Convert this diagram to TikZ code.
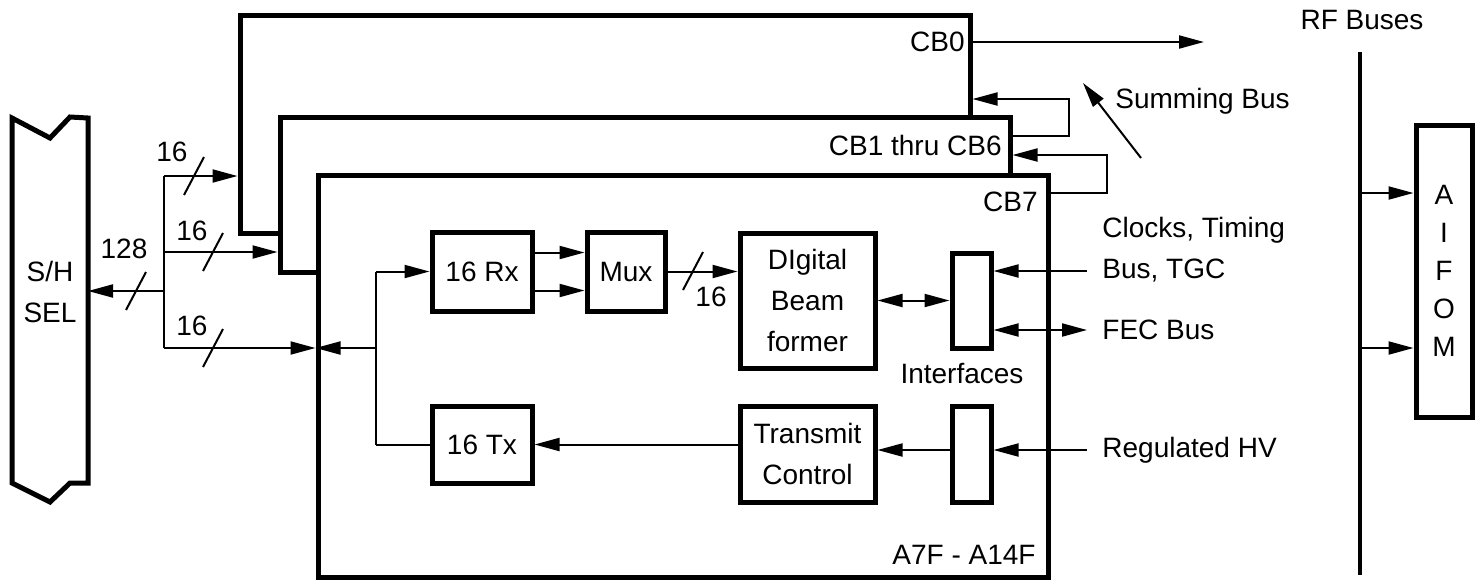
\documentclass[tikz,border=0pt]{standalone}
\usepackage{fontspec}
\setmainfont{Liberation Sans}
\usetikzlibrary{positioning,arrows.meta,calc}

\begin{document}
\begin{tikzpicture}[x=0.5pt,y=-0.5pt,>={Triangle[length=12.5pt,width=6.5pt]},
    font=\fontsize{14}{20.5}\selectfont,
    heavy/.style={line width=2.5pt},
    wire/.style={line width=1pt},
    blk/.style={draw,heavy,fill=white,inner sep=0pt,align=center},
    card/.style={draw,heavy,fill=white,inner sep=0pt,minimum width=365pt},
    lbl/.style={inner sep=0pt,align=center}]
  \useasboundingbox (0,0) rectangle (1476,580);

  % stacked channel boards
  \node[card,minimum height=109pt] (cb0) at (605,124) {};
  \node[card,minimum height=77.5pt] (cb1) at (645,194.5) {};
  \node[card,minimum height=201pt] (cb7) at (683,376) {};
  \node[lbl,anchor=east] (cb0lbl) at (965,42) {CB0};
  \node[lbl,anchor=east] (cb1lbl) at (1002,145) {CB1 thru CB6};
  \node[lbl,anchor=east] (cb7lbl) at (1038,202) {CB7};
  \node[lbl,anchor=east] (boardlbl) at (1036,555) {A7F - A14F};

  % summing bus
  \draw[wire,->] (cb1.east |- 0,136) -- ++(56,0) |- (cb0.east |- 0,99);
  \draw[wire,->] (cb7.east |- 0,193) -- ++(56,0) |- (cb1.east |- 0,155);
  \coordinate (sumout) at (1204,42);
  \draw[wire,->] (cb0.east |- sumout) -- (sumout);
  \coordinate (sbtail) at (1141,158);
  \coordinate (sbhead) at (1083,83);
  \draw[wire,->] (sbtail) -- (sbhead);
  \node[lbl,anchor=west] (sblbl) at (1115,101) {Summing Bus};

  % S/H select
  \node[inner sep=0pt,outer sep=0pt,minimum width=38pt,minimum height=182.5pt] (sh) at (50,300.5) {};
  \draw[heavy] (sh.south west) -- (sh.north west) -- ++(38,20) -- ++(20,-21)
    -- (sh.north east) -- (sh.south east) -- ++(-18,0) -- ++(-20,19) -- cycle;
  \node[lbl] (shlbl) at (50,292) {S/H\\SEL};

  \coordinate (bt) at (164,176);
  \coordinate (bm) at (164,252);
  \coordinate (bj) at (164,291);
  \coordinate (bb) at (164,348);
  \draw[wire] (bt) -- (bb);
  \draw[wire,->] (bj) -- (bj -| sh.east);
  \draw[wire,->] (bt) -- (bt -| cb0.west);
  \draw[wire,->] (bm) -- (bm -| cb1.west);
  \draw[wire,->] (bb) -- (bb -| cb7.west);
  \foreach \sx/\sy in {136/291,194/176,213/252,213/348,693/271}
    \draw[wire] (\sx,\sy) ++(-10,19) -- ++(20,-38);
  \node[lbl] (w128) at (124,249) {128};
  \node[lbl] (w0) at (172,152) {16};
  \node[lbl] (w1) at (192,231) {16};
  \node[lbl] (w7) at (192,326) {16};
  \node[lbl] (wmux) at (711,297) {16};

  % board contents
  \node[blk,minimum width=50pt,minimum height=39.5pt] (rx) at (482,271.5) {16 Rx};
  \node[blk,minimum width=39pt,minimum height=39.5pt] (mux) at (626,271.5) {Mux};
  \node[blk,minimum width=67.5pt,minimum height=67.5pt] (dbf) at (807.5,300.5) {DIgital\\Beam\\former};
  \node[blk,minimum width=50pt,minimum height=38.5pt] (tx) at (482,444.5) {16 Tx};
  \node[blk,minimum width=67.5pt,minimum height=48pt] (tc) at (807.5,454) {Transmit\\Control};
  \node[blk,minimum width=19.5pt,minimum height=47.5pt] (ifu) at (971.5,300.5) {};
  \node[blk,minimum width=19.5pt,minimum height=48pt] (ifl) at (971.5,454) {};
  \node[lbl] (iflbl) at (962,373) {Interfaces};

  \coordinate (sp) at (376,348);
  \draw[wire] (sp |- rx) -- (sp |- tx);
  \draw[wire,->] (sp |- rx) -- (rx.west);
  \draw[wire] (sp |- tx) -- (tx.west);
  \draw[wire,->] (sp) -- (sp -| cb7.west);
  \draw[wire,->] ([yshift=9.5pt]rx.east) -- ([yshift=9.5pt]mux.west);
  \draw[wire,->] ([yshift=-9.5pt]rx.east) -- ([yshift=-9.5pt]mux.west);
  \draw[wire,->] (mux) -- (dbf.west |- mux);
  \draw[wire,<->] (dbf) -- (ifu);
  \coordinate (clk) at (1087,271);
  \coordinate (fec) at (1087,330);
  \coordinate (hv) at (1087,450);
  \draw[wire,->] (clk) -- (clk -| ifu.east);
  \draw[wire,<->] (fec -| ifu.east) -- (fec);
  \draw[wire,->] (hv) -- (hv -| ifl.east);
  \draw[wire,->] (ifl.west |- hv) -- (tc.east |- hv);
  \draw[wire,->] (tc.west |- tx) -- (tx);
  \node[lbl,anchor=west,align=left] (clklbl) at (1102,250) {Clocks, Timing\\Bus, TGC};
  \node[lbl,anchor=west] (feclbl) at (1102,330) {FEC Bus};
  \node[lbl,anchor=west] (hvlbl) at (1102,450) {Regulated HV};

  % RF buses and AIFOM
  \coordinate (rftop) at (1360,52);
  \coordinate (rfbot) at (1360,575);
  \draw[line width=2pt] (rftop) -- (rfbot);
  \node[lbl] (rflbl) at (1362,20) {RF Buses};
  \node[blk,minimum width=28pt,minimum height=146pt,font=\fontsize{14}{19}\selectfont] (aifom) at (1444,271) {A\\I\\F\\O\\M};
  \draw[wire,->] (rftop |- 0,193) -- (aifom.west |- 0,193);
  \draw[wire,->] (rftop |- 0,348) -- (aifom.west |- 0,348);
\end{tikzpicture}
\end{document}
